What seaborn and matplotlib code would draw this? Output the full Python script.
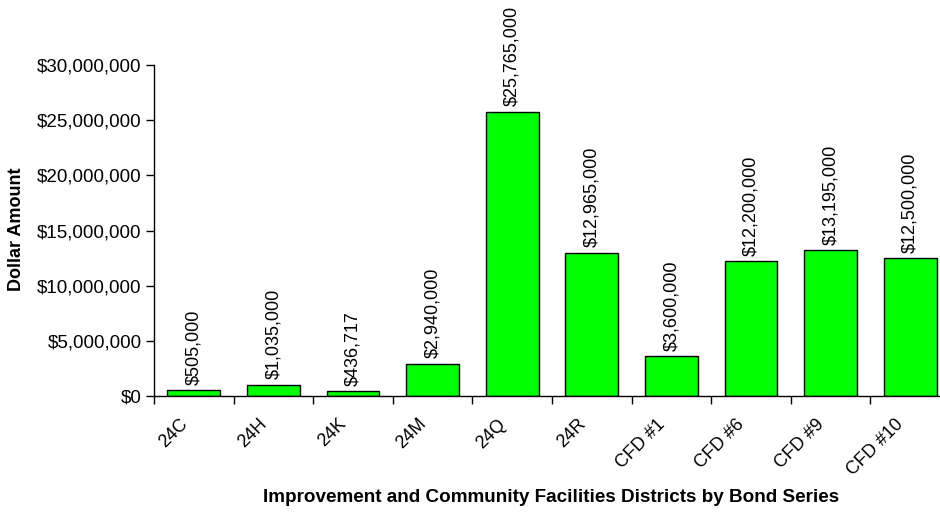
import matplotlib
matplotlib.use("Agg")
import matplotlib.pyplot as plt
import matplotlib.transforms as mtransforms
import seaborn as sns
import numpy as np
import pandas as pd
from matplotlib.ticker import FuncFormatter, FixedLocator

categories = ["24C", "24H", "24K", "24M", "24Q", "24R", "CFD #1", "CFD #6", "CFD #9", "CFD #10"]
amounts = [505000, 1035000, 436717, 2940000, 25765000, 12965000, 3600000, 12200000, 13195000, 12500000]
yticks = [0, 5000000, 10000000, 15000000, 20000000, 25000000, 30000000]

sns.set_theme(style="white")
plt.rcParams['font.family'] = ['Liberation Sans', 'DejaVu Sans']
plt.rcParams['text.color'] = 'black'
plt.rcParams['axes.labelcolor'] = 'black'
plt.rcParams['xtick.color'] = 'black'
plt.rcParams['ytick.color'] = 'black'

df = pd.DataFrame({"cat": categories, "amt": amounts})

fig = plt.figure(figsize=(9.4, 5.12), dpi=100)
ax = fig.add_axes([154/940, 1-396/512, (950-154)/940, (396-65)/512])
sns.barplot(data=df, x="cat", y="amt", color="#00FF00", saturation=1, width=0.665,
            edgecolor="black", linewidth=1.0, ax=ax)
ax.set_xlim(-0.5, len(categories)-0.5)
ax.set_ylim(0, 30000000)
ax.set_yticks(yticks)
ax.yaxis.set_major_formatter(FuncFormatter(lambda v, p: "${:,.0f}".format(v)))
ax.tick_params(axis='y', which='major', length=6, width=1, color='black', labelsize=13.5, pad=3, left=True)
ax.tick_params(axis='x', which='major', length=0, labelsize=13, pad=4)
ax.xaxis.set_minor_locator(FixedLocator(np.arange(-0.5, len(categories), 1.0)))
ax.tick_params(axis='x', which='minor', length=6, width=1, color='black', bottom=True)
shift = mtransforms.ScaledTranslation(-15/100, -14/100, fig.dpi_scale_trans)
for lab in ax.get_xticklabels():
    lab.set_rotation(45)
    lab.set_ha('right')
    lab.set_rotation_mode('anchor')
    lab.set_transform(lab.get_transform() + shift)

for s in ['top', 'right']:
    ax.spines[s].set_visible(False)
for s in ['left', 'bottom']:
    ax.spines[s].set_color('black')
    ax.spines[s].set_linewidth(1)

for i, v in enumerate(amounts):
    ax.annotate("${:,.0f}".format(v), xy=(i, v), xytext=(0, 4), textcoords='offset points',
                rotation=90, ha='center', va='bottom', fontsize=13, color='black',
                annotation_clip=False)

ax.set_xlabel("")
ax.set_ylabel("")
fig.text(551/940, 1-497/512, "Improvement and Community Facilities Districts by Bond Series",
         fontsize=13.6, fontweight='bold', ha='center', va='center')
fig.text(16.5/940, 1-229/512, "Dollar Amount", fontsize=13, fontweight='bold',
         rotation=90, ha='center', va='center')

fig.savefig("out.png", dpi=100)
